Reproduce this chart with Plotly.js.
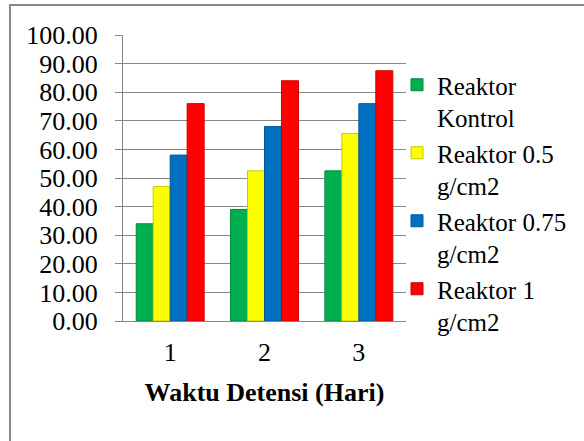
<!DOCTYPE html>
<html>
<head>
<meta charset="utf-8">
<script src="https://cdn.plot.ly/plotly-3.0.1.min.js"></script>
<style>
html,body{margin:0;padding:0;background:#fff;}
#chart{width:584px;height:441px;}
</style>
</head>
<body>
<div id="chart"></div>
<script>
const categories = ['1', '2', '3'];
const seriesNames = ['Reaktor<br>Kontrol', 'Reaktor 0.5<br>g/cm2', 'Reaktor 0.75<br>g/cm2', 'Reaktor 1<br>g/cm2'];
const reaktorKontrol = [34.0, 39.0, 52.5];
const reaktor05 = [47.0, 52.5, 65.5];
const reaktor075 = [58.0, 68.0, 76.0];
const reaktor1 = [76.0, 84.0, 87.5];
const seriesValues = [reaktorKontrol, reaktor05, reaktor075, reaktor1];
const colors = ['#00B050', '#FFFF00', '#0070C0', '#FF0000'];
const edgeColors = ['#00893e', '#c9c900', '#005a9a', '#c80000'];
const yTickVals = [0, 10, 20, 30, 40, 50, 60, 70, 80, 90, 100];
const xTitle = 'Waktu Detensi (Hari)';

const font = 'Liberation Serif';
const grid = '#868686';

const traces = seriesValues.map((vals, i) => ({
  type: 'bar',
  x: categories,
  y: vals,
  name: seriesNames[i],
  marker: {color: colors[i], line: {color: edgeColors[i], width: 1}},
  hoverinfo: 'skip'
}));

const L = 123, R = 178, T = 35, B = 120;
const W = 584 - L - R, H = 441 - T - B;
const px = x => (x - L) / W;
const py = y => (441 - B - y) / H;

const layout = {
  width: 584, height: 441,
  margin: {l: L, r: R, t: T, b: B, pad: 0},
  paper_bgcolor: '#fff', plot_bgcolor: '#fff',
  font: {family: font, size: 26, color: '#000'},
  barmode: 'group', bargap: 0.28, bargroupgap: 0,
  xaxis: {
    type: 'category', showline: true, linecolor: grid, linewidth: 1,
    ticks: '', showgrid: false, ticklabelstandoff: 8,
    tickfont: {family: font, size: 26, color: '#000'},
    title: {text: '<b>' + xTitle + '</b>', font: {family: font, size: 26, color: '#000'}, standoff: 16}
  },
  yaxis: {
    range: [0, 100], tickvals: yTickVals, tickformat: '.2f',
    showline: true, linecolor: grid, linewidth: 1,
    ticks: 'outside', ticklen: 7, tickcolor: grid, tickwidth: 1,
    showgrid: true, gridcolor: grid, gridwidth: 1, zeroline: false,
    ticklabelstandoff: 12,
    tickfont: {family: font, size: 26, color: '#000'}
  },
  showlegend: true,
  legend: {
    x: px(397), y: py(62), xanchor: 'left', yanchor: 'top',
    valign: 'top', bgcolor: 'rgba(0,0,0,0)', borderwidth: 0,
    font: {family: font, size: 25, color: '#000'},
    itemclick: false, itemdoubleclick: false
  },
  shapes: [{
    type: 'path', xref: 'paper', yref: 'paper',
    path: 'M ' + px(10) + ',' + py(445) + ' L ' + px(10) + ',' + py(5) + ' L ' + px(590) + ',' + py(5),
    line: {color: '#8a8a8a', width: 2}
  }]
};

Plotly.newPlot('chart', traces, layout, {staticPlot: true, displayModeBar: false});
</script>
</body>
</html>
